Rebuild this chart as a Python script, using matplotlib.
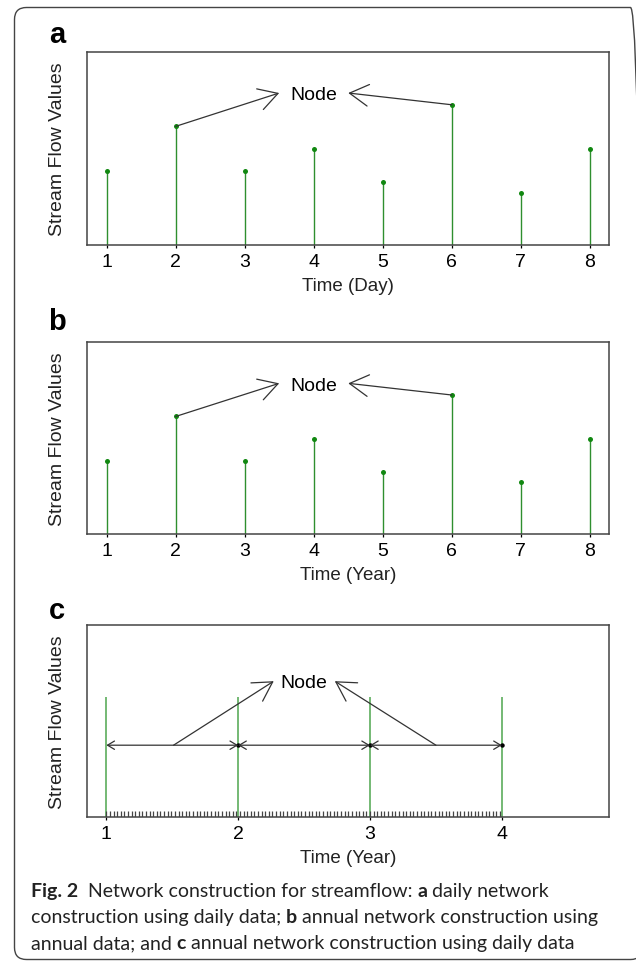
import numpy as np
import matplotlib
matplotlib.use("Agg")
import matplotlib.pyplot as plt
from matplotlib.patches import FancyBboxPatch, ArrowStyle
from matplotlib.transforms import IdentityTransform

# ==========================================================
# Data
# ==========================================================

time_steps = [1, 2, 3, 4, 5, 6, 7, 8]
flow_values = [3.83, 6.13, 3.83, 4.97, 3.26, 7.25, 2.69, 4.97]

years_c = [1, 2, 3, 4]
year_line_height = 6.27
segment_level = 3.73

# every tenth day over the three years of daily data
rug_days = np.arange(0, 3 * 365 + 1, 10) / 365 + 1

panel_letters = ["a", "b", "c"]
x_labels = ["Time (Day)", "Time (Year)", "Time (Year)"]

caption_lines = [
    [("Fig. 2", True), ("  Network construction for streamflow: ", False),
     ("a", True), (" daily network", False)],
    [("construction using daily data; ", False), ("b", True),
     (" annual network construction using", False)],
    [("annual data; and ", False), ("c", True),
     (" annual network construction using daily data", False)],
]

# ==========================================================
# Layout
# ==========================================================

W, H = 636, 962
plt.rcParams["font.family"] = ["Liberation Sans", "DejaVu Sans"]

fig = plt.figure(figsize=(W / 100, H / 100), dpi=100)

STEM = "#2f8f2f"
DOT = "#118811"
ARROW = "#333333"
FRAME = "#444444"


def px_axes(left, top, right, bottom):
    return fig.add_axes([left / W, 1 - bottom / H,
                         (right - left) / W, (bottom - top) / H])


axes_tops = [52.7, 343.3, 626.0]
axes_bottoms = [245.7, 535.0, 817.7]
letter_y = [35, 322, 611]

axs = [px_axes(87.2, t, 609.3, b) for t, b in zip(axes_tops, axes_bottoms)]

for i, ax in enumerate(axs):
    for sp in ax.spines.values():
        sp.set_color(FRAME)
        sp.set_linewidth(1.1)
    ax.set_yticks([])
    ax.set_ylim(0, 10)
    ax.tick_params(axis="x", length=2.5, width=0.9, pad=3.5,
                   labelsize=14, colors="black")
    ax.set_ylabel("Stream Flow Values", fontsize=14, labelpad=15,
                  color="#222222")
    ax.set_xlabel(x_labels[i], fontsize=13.5, labelpad=5, color="#222222")
    fig.text(57 / W, 1 - letter_y[i] / H, panel_letters[i],
             fontsize=21, fontweight="bold", ha="center", va="center")

big_head = ArrowStyle("->", head_length=0.68, head_width=0.39)
small_head = ArrowStyle("<->", head_length=0.5, head_width=0.3)

# ==========================================================
# Panels a and b
# ==========================================================

for ax in axs[:2]:
    ax.vlines(time_steps, 0, flow_values, color=STEM, lw=1.0)
    ax.plot(time_steps, flow_values, "o", color=DOT, ms=3.6, mec="none")
    ax.set_xlim(0.72, 8.28)
    ax.set_xticks(time_steps)

    ax.text(4.0, 7.77, "Node", fontsize=14, ha="center", va="center")

    ax.annotate("", xy=(3.5, 7.86), xytext=(2, flow_values[1]),
                arrowprops=dict(arrowstyle=big_head, mutation_scale=20,
                                color=ARROW, lw=0.9,
                                shrinkA=0, shrinkB=0))
    ax.annotate("", xy=(4.5, 7.86), xytext=(6, flow_values[5]),
                arrowprops=dict(arrowstyle=big_head, mutation_scale=20,
                                color=ARROW, lw=0.9,
                                shrinkA=0, shrinkB=0))

# ==========================================================
# Panel c
# ==========================================================

ax = axs[2]
ax.set_xlim(0.855, 4.815)
ax.set_xticks(years_c)

ax.vlines(years_c, 0, year_line_height, color="#4ea54e", lw=1.1)
ax.vlines(rug_days, 0, 0.32, color="#444444", lw=0.9)

for x0, x1 in zip(years_c[:-1], years_c[1:]):
    ax.annotate("", xy=(x1, segment_level), xytext=(x0, segment_level),
                arrowprops=dict(arrowstyle=small_head, mutation_scale=10,
                                color=ARROW, lw=0.9,
                                shrinkA=0, shrinkB=0))

ax.plot(years_c[1:], [segment_level] * 3, "o", color="black", ms=2.2)

ax.text(2.495, 7.0, "Node", fontsize=14, ha="center", va="center")

ax.annotate("", xy=(2.27, 7.07), xytext=(1.51, segment_level),
            arrowprops=dict(arrowstyle=big_head, mutation_scale=20,
                            color=ARROW, lw=0.9, shrinkA=0, shrinkB=0))
ax.annotate("", xy=(2.733, 7.07), xytext=(3.5, segment_level),
            arrowprops=dict(arrowstyle=big_head, mutation_scale=20,
                            color=ARROW, lw=0.9, shrinkA=0, shrinkB=0))

# ==========================================================
# Caption
# ==========================================================

renderer = fig.canvas.get_renderer()
baselines = [897, 923, 949]

for line, base in zip(caption_lines, baselines):
    x = 30.8
    for part, bold in line:
        t = fig.text(x / W, 1 - base / H, part, fontsize=14,
                     family=["Lato", "DejaVu Sans"],
                     fontweight="bold" if bold else "normal",
                     va="baseline", ha="left", color="#222222")
        x += t.get_window_extent(renderer).width

# ==========================================================
# Outer frame
# ==========================================================

frame = FancyBboxPatch((14.5, 1.5), 628, 952,
                       boxstyle="round,pad=0,rounding_size=12",
                       transform=IdentityTransform(), fill=False,
                       ec="#444444", lw=1.0)
fig.patches.append(frame)

fig.savefig("out.png", dpi=100)
